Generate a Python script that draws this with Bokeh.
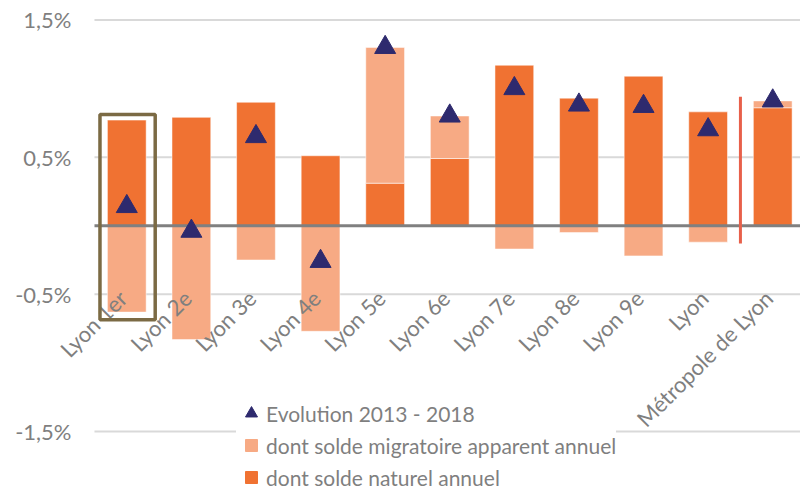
import math
from bokeh.plotting import figure
from bokeh.models import (ColumnDataSource, BoxAnnotation, Legend,
                          LegendItem, Range1d)
from bokeh.embed import file_html
from bokeh.resources import INLINE
from bokeh.core.properties import value

# ---------------- data (in %) ----------------
categories = ["Lyon 1er", "Lyon 2e", "Lyon 3e", "Lyon 4e", "Lyon 5e", "Lyon 6e",
              "Lyon 7e", "Lyon 8e", "Lyon 9e", "Lyon", "Métropole de Lyon"]
solde_naturel = [0.77, 0.79, 0.90, 0.51, 0.31, 0.49, 1.17, 0.93, 1.09, 0.83, 0.86]
solde_migratoire = [-0.63, -0.83, -0.25, -0.77, 0.99, 0.31, -0.17, -0.05, -0.22, -0.12, 0.05]
evolution = [0.14, -0.04, 0.65, -0.26, 1.30, 0.80, 1.00, 0.88, 0.87, 0.70, 0.91]
y_ticks = [-1.5, -0.5, 0.5, 1.5]
y_tick_labels = ["-1,5%", "-0,5%", "0,5%", "1,5%"]
legend_labels = ["Evolution 2013 - 2018",
                 "dont solde migratoire apparent annuel",
                 "dont solde naturel annuel"]

# ---------------- styles / layout ----------------
DARK = "#F07232"
LIGHT = "#F7AA84"
NAVY = "#2E2A6E"
GREY_TXT = "#7F7F7F"
FONT = "Lato"
X_MIN, X_MAX = -0.5, 10.43      # extent of the plotting area (data units)
LABEL_Y = -0.5                   # vertical anchor of the category labels

idx = list(range(len(categories)))
mig_bottom = [n if m > 0 else m for n, m in zip(solde_naturel, solde_migratoire)]
mig_top = [n + m if m > 0 else 0 for n, m in zip(solde_naturel, solde_migratoire)]

src = ColumnDataSource(dict(x=idx, cat=categories, nat=solde_naturel,
                            zero=[0] * len(idx), mig_b=mig_bottom, mig_t=mig_top,
                            evo=evolution, lab_y=[LABEL_Y] * len(idx)))
tick_src = ColumnDataSource(dict(y=y_ticks, lab=y_tick_labels,
                                 x0=[X_MIN] * len(y_ticks), x1=[X_MAX] * len(y_ticks)))

# frame covers the whole canvas so rotated labels are not clipped
p = figure(width=800, height=488, output_backend="svg", toolbar_location=None,
           x_range=Range1d(-1.955, X_MAX), y_range=Range1d(-1.916, 1.642),
           min_border_left=0, min_border_right=0, min_border_top=0,
           min_border_bottom=0)
p.outline_line_color = None
p.background_fill_color = "white"
p.border_fill_color = "white"
p.xaxis.visible = False
p.yaxis.visible = False
p.grid.visible = False

# horizontal grid lines + value labels
p.segment(x0="x0", y0="y", x1="x1", y1="y", source=tick_src,
          line_color="#D9D9D9", line_width=2)
p.text(x="x0", y="y", text="lab", source=tick_src, x_offset=-23,
       text_align="right", text_baseline="middle",
       text_font=value(FONT), text_font_size="22px", text_color=GREY_TXT)

# bars
p.vbar(x="x", top="nat", bottom="zero", width=0.6, source=src,
       fill_color=DARK, line_color="white", line_alpha=0.5, line_width=1)
p.vbar(x="x", top="mig_t", bottom="mig_b", width=0.6, source=src,
       fill_color=LIGHT, line_color="white", line_alpha=0.5, line_width=1)

# zero line
p.segment(x0=[X_MIN], y0=[0], x1=[X_MAX], y1=[0], line_color="#808080", line_width=3)

# separator before Métropole
p.segment(x0=[9.5], y0=[0.94], x1=[9.5], y1=[-0.13], line_color="#E8604A", line_width=3)

# category labels
p.text(x="x", y="lab_y", text="cat", source=src, angle=math.pi / 4,
       text_align="right", text_baseline="alphabetic", x_offset=-4,
       text_font=value(FONT), text_font_size="22px", text_color=GREY_TXT)

# evolution triangles
tri = p.scatter(x="x", y="evo", source=src, marker="triangle", size=21,
                fill_color=NAVY, line_color=NAVY)

# highlight box around Lyon 1er
p.add_layout(BoxAnnotation(left=-0.415, right=0.44, top=0.81, bottom=-0.686,
                           fill_alpha=0, line_color="#7B6A44", line_alpha=1.0,
                           line_width=3.5))

# legend swatches (not drawn in the plot: NaN coordinates)
leg_mig = p.scatter(x=[math.nan], y=[math.nan], marker="square",
                    fill_color=LIGHT, line_color=LIGHT)
leg_nat = p.scatter(x=[math.nan], y=[math.nan], marker="square",
                    fill_color=DARK, line_color=DARK)
legend = Legend(items=[LegendItem(label=legend_labels[0], renderers=[tri]),
                       LegendItem(label=legend_labels[1], renderers=[leg_mig]),
                       LegendItem(label=legend_labels[2], renderers=[leg_nat])],
                location=(236, -5), orientation="vertical",
                glyph_width=30, glyph_height=32, label_height=20,
                label_standoff=0, spacing=0, padding=0, margin=0,
                border_line_color=None, background_fill_color="white",
                background_fill_alpha=1.0,
                label_text_font=FONT, label_text_font_size="21px",
                label_text_color=GREY_TXT)
p.add_layout(legend, "center")

open("out.html", "w").write(file_html(p, INLINE))
